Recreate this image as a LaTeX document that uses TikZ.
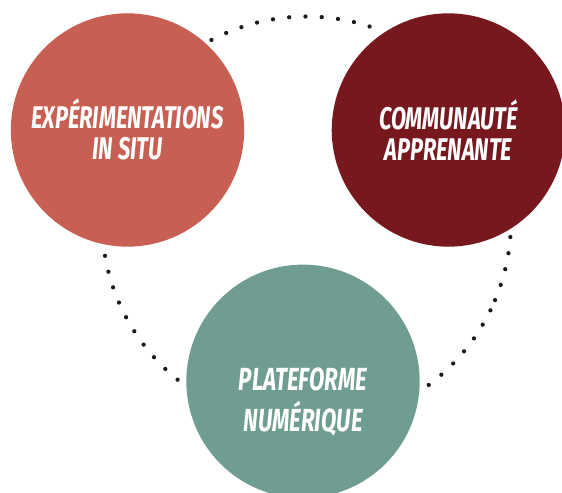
\documentclass[tikz,border=0pt]{standalone}
\usepackage{fontspec}
\newfontfamily\lf[FakeStretch=0.7]{Fira Sans}
\definecolor{terra}{HTML}{C75F52}
\definecolor{bordeaux}{HTML}{76181E}
\definecolor{sage}{HTML}{6F9D91}
\definecolor{ink}{HTML}{1A1A1A}
\begin{document}
\begin{tikzpicture}[x=0.75pt,y=0.75pt,
  bubble/.style={circle, minimum size=175pt, inner sep=0pt, text=white, align=center},
  toplabel/.style={font=\lf\bfseries\itshape\fontsize{23.5}{23.6}\selectfont},
  botlabel/.style={font=\lf\bfseries\itshape\fontsize{24}{31.1}\selectfont},
  ring/.style={draw=ink, line width=3.2pt, line cap=round, dash pattern=on 0pt off 12.225pt}]
\useasboundingbox (0,0) rectangle (562,493);
\fill[white] (0,0) rectangle (562,493);
\coordinate (ringc) at (306.5,272);
% dotted ring, behind the circles
\draw[ring] ([shift={(117.7:204.5)}]ringc) arc[start angle=117.7, end angle=71.5, radius=204.5];
\draw[ring] ([shift={(189.8:204.5)}]ringc) arc[start angle=189.8, end angle=231.4, radius=204.5];
\draw[ring] ([shift={(-4.5:204.5)}]ringc) arc[start angle=-4.5, end angle=-23.2, radius=204.5];
\draw[ring] ([shift={(-25.9:204.5)}]ringc) arc[start angle=-25.9, end angle=-58.3, radius=204.5];
% circles
\node[bubble, fill=terra, toplabel, text height=45pt, text depth=0pt] (exp) at (127.5,363) {EXPÉRIMENTATIONS\\IN SITU};
\node[bubble, fill=bordeaux, toplabel, text height=46pt, text depth=0pt] (com) at (448.4,363) {COMMUNAUTÉ\\APPRENANTE};
\node[bubble, fill=sage, botlabel, text height=75.3pt, text depth=0pt] (plat) at (303,111.7) {PLATEFORME\\NUMÉRIQUE};
\end{tikzpicture}
\end{document}
